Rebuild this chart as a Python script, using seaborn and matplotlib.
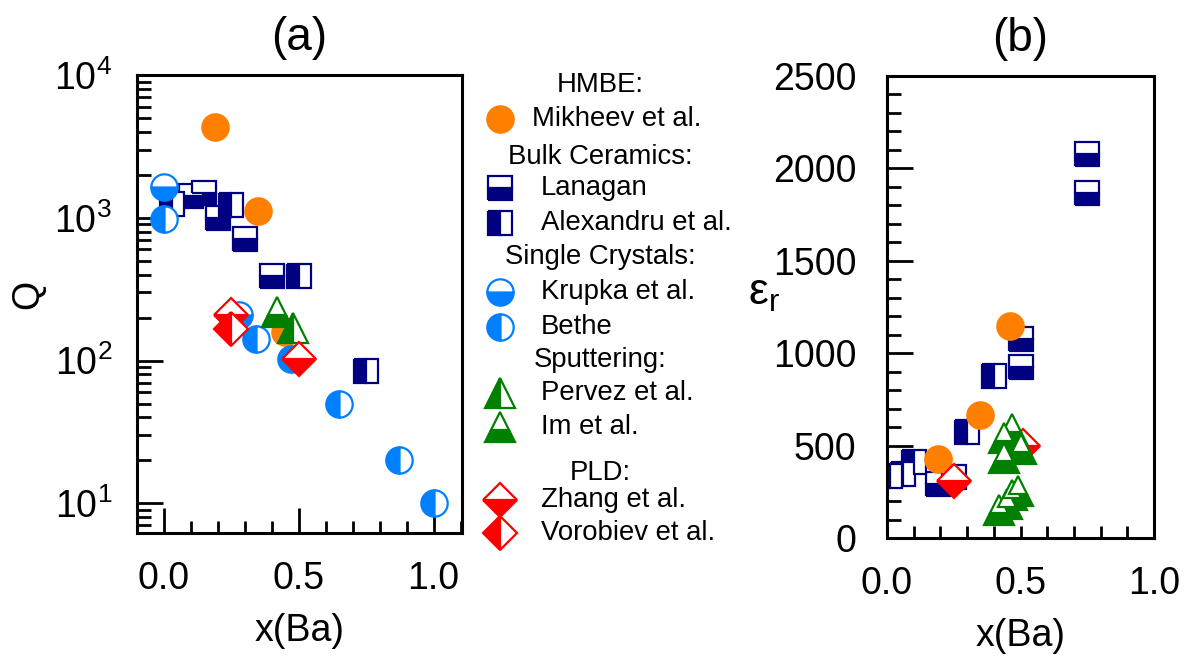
import matplotlib
matplotlib.use("Agg")
import matplotlib.pyplot as plt
from matplotlib.ticker import LogLocator, MultipleLocator, FixedLocator, NullFormatter
import seaborn as sns

# ---- data: x(Ba) composition, quality factor Q and permittivity eps_r ----
mikheev_x_q = [0.19, 0.35, 0.45]
mikheev_q = [4300, 1120, 158]
lanagan_x_q = [0.10, 0.15, 0.20, 0.30, 0.40]
lanagan_q = [1410, 1500, 995, 716, 393]
alexandru_x_q = [0.03, 0.25, 0.50, 0.75]
alexandru_q = [1250, 1230, 393, 84]
krupka_x_q = [0.0, 0.28]
krupka_q = [1650, 207]
bethe_x_q = [0.0, 0.34, 0.47, 0.65, 0.87, 1.0]
bethe_q = [980, 142, 103, 50, 20, 10]
pervez_x_q = [0.48]
pervez_q = [169]
im_x_q = [0.42]
im_q = [218]
zhang_x_q = [0.25, 0.50]
zhang_q = [210, 103]
vorobiev_x_q = [0.25]
vorobiev_q = [167]

mikheev_x_e = [0.19, 0.35, 0.46]
mikheev_e = [430, 667, 1149]
lanagan_x_e = [0.19, 0.25, 0.50, 0.50, 0.75, 0.75]
lanagan_e = [290, 330, 1075, 928, 2079, 1868]
alexandru_x_e = [0.01, 0.06, 0.10, 0.30, 0.40]
alexandru_e = [338, 344, 410, 574, 878]
im_x_e = [0.47, 0.44, 0.44, 0.50, 0.42, 0.45, 0.47, 0.49]
im_e = [590, 540, 434, 480, 150, 185, 235, 255]
zhang_x_e = [0.25, 0.51]
zhang_e = [311, 496]

x_ticks = [0.0, 0.5, 1.0]
x_tick_labels = ["0.0", "0.5", "1.0"]
eps_ticks = [0, 500, 1000, 1500, 2000, 2500]

ORANGE = "#ff8000"
NAVY = "#000080"
BLUE = "#0080ff"
GREEN = "#008000"
RED = "#ff0000"

# marker style for every data source
styles = {
    "Mikheev": dict(marker="o", fillstyle="full", color=ORANGE, size=19, edge=ORANGE),
    "Lanagan": dict(marker="s", fillstyle="bottom", color=NAVY, size=17.5, edge=NAVY),
    "Alexandru": dict(marker="s", fillstyle="left", color=NAVY, size=17.5, edge=NAVY),
    "Krupka": dict(marker="o", fillstyle="bottom", color=BLUE, size=19, edge=BLUE),
    "Bethe": dict(marker="o", fillstyle="left", color=BLUE, size=19, edge=BLUE),
    "Pervez": dict(marker="^", fillstyle="left", color=GREEN, size=22, edge=GREEN),
    "Im": dict(marker="^", fillstyle="bottom", color=GREEN, size=22, edge=GREEN),
    "Zhang": dict(marker="D", fillstyle="bottom", color=RED, size=17, edge=RED),
    "Vorobiev": dict(marker="D", fillstyle="left", color=RED, size=17, edge=RED),
}

sns.set_theme(style="white")
plt.rcParams["font.family"] = ["Liberation Sans", "DejaVu Sans"]
plt.rcParams["mathtext.fontset"] = "custom"
plt.rcParams["mathtext.rm"] = "Liberation Sans"
plt.rcParams["mathtext.it"] = "Liberation Sans:italic"
plt.rcParams["mathtext.bf"] = "Liberation Sans:bold"
for key in ("text.color", "axes.labelcolor", "xtick.color", "ytick.color"):
    plt.rcParams[key] = "black"

FS = 27

fig = plt.figure(figsize=(11.92, 6.57), dpi=100)
W, H = 1192, 657
ax_a = fig.add_axes([137 / W, 1 - 533 / H, (462 - 137) / W, (533 - 75) / H])
ax_b = fig.add_axes([887 / W, 1 - 538 / H, (1154 - 887) / W, (538 - 76) / H])


def draw(ax, name, xs, ys):
    st = styles[name]
    sns.lineplot(
        x=xs, y=ys, ax=ax, estimator=None, sort=False, legend=False,
        linestyle="", marker=st["marker"], markersize=st["size"],
        fillstyle=st["fillstyle"], markerfacecolor=st["color"],
        markerfacecoloralt="white", markeredgecolor=st["edge"],
        markeredgewidth=1.6, color=st["color"], clip_on=True,
    )


# panel (a): Q versus composition
draw(ax_a, "Lanagan", lanagan_x_q, lanagan_q)
draw(ax_a, "Alexandru", alexandru_x_q, alexandru_q)
draw(ax_a, "Mikheev", mikheev_x_q, mikheev_q)
draw(ax_a, "Krupka", krupka_x_q, krupka_q)
draw(ax_a, "Bethe", bethe_x_q, bethe_q)
draw(ax_a, "Im", im_x_q, im_q)
draw(ax_a, "Pervez", pervez_x_q, pervez_q)
draw(ax_a, "Zhang", zhang_x_q, zhang_q)
draw(ax_a, "Vorobiev", vorobiev_x_q, vorobiev_q)

# panel (b): permittivity versus composition
draw(ax_b, "Lanagan", lanagan_x_e, lanagan_e)
draw(ax_b, "Alexandru", alexandru_x_e, alexandru_e)
draw(ax_b, "Mikheev", mikheev_x_e, mikheev_e)
draw(ax_b, "Zhang", zhang_x_e, zhang_e)
draw(ax_b, "Im", im_x_e, im_e)

# ---- axes styling ----
ax_a.set_yscale("log")
ax_a.set_xlim(-0.1, 1.105)
ax_a.set_ylim(6.2, 10000)
ax_a.yaxis.set_major_locator(LogLocator(base=10, numticks=10))
ax_a.yaxis.set_minor_locator(LogLocator(base=10, subs=range(2, 10), numticks=50))
ax_a.yaxis.set_minor_formatter(NullFormatter())
ax_a.xaxis.set_major_locator(FixedLocator(x_ticks))
ax_a.set_xticklabels(x_tick_labels)
ax_a.xaxis.set_minor_locator(MultipleLocator(0.1))

ax_b.set_xlim(0, 1.0)
ax_b.set_ylim(0, 2500)
ax_b.xaxis.set_major_locator(FixedLocator(x_ticks))
ax_b.set_xticklabels(x_tick_labels)
ax_b.xaxis.set_minor_locator(MultipleLocator(0.1))
ax_b.yaxis.set_major_locator(FixedLocator(eps_ticks))
ax_b.yaxis.set_minor_locator(MultipleLocator(100))

for ax in (ax_a, ax_b):
    for sp in ax.spines.values():
        sp.set_linewidth(2.2)
        sp.set_color("black")
        sp.set_visible(True)
    ax.tick_params(which="both", direction="in", color="black", width=2.0,
                   labelsize=FS, labelcolor="black",
                   top=False, right=False, left=True, bottom=True)
    ax.tick_params(axis="y", which="major", length=19, pad=18)
    ax.tick_params(axis="y", which="minor", length=10)
    ax.set_xlabel("x(Ba)", fontsize=FS, labelpad=12)
    ax.grid(False)

ax_a.tick_params(axis="x", which="major", length=18, pad=20)
ax_a.tick_params(axis="x", which="minor", length=9)
ax_b.tick_params(axis="x", which="both", length=9, pad=20)
ax_b.tick_params(axis="y", which="major", pad=22)

ax_a.set_ylabel("Q", fontsize=FS, va="center")
ax_a.yaxis.set_label_coords(-0.335, 0.52)
ax_b.set_ylabel("ε$_{\\mathregular{r}}$", fontsize=FS + 5, rotation=0,
                ha="center", va="center")
ax_b.yaxis.set_label_coords(-0.46, 0.53)

ax_a.set_title("(a)", fontsize=33, pad=18)
ax_b.set_title("(b)", fontsize=33, pad=18)

# ---- grouped legend between the panels ----
leg = fig.add_axes([0, 0, 1, 1])
leg.set_xlim(0, W)
leg.set_ylim(H, 0)
leg.axis("off")
leg.patch.set_alpha(0)

LEG_FS = 19.8
headers = [("HMBE:", 85), ("Bulk Ceramics:", 157), ("Single Crystals:", 257),
           ("Sputtering:", 360), ("PLD:", 473)]
entries = [("Mikheev", "Mikheev et al.", 119, 532),
           ("Lanagan", "Lanagan", 188, 541),
           ("Alexandru", "Alexandru et al.", 223, 541),
           ("Krupka", "Krupka et al.", 292, 541),
           ("Bethe", "Bethe", 327, 541),
           ("Pervez", "Pervez et al.", 393, 541),
           ("Im", "Im et al.", 427, 541),
           ("Zhang", "Zhang et al.", 500, 541),
           ("Vorobiev", "Vorobiev et al.", 533, 541)]
for text, y in headers:
    leg.text(600, y, text, fontsize=LEG_FS, ha="center", va="center")
for key, label, y, tx in entries:
    st = styles[key]
    leg.plot([499.5], [y], linestyle="", marker=st["marker"], markersize=st["size"],
             fillstyle=st["fillstyle"], markerfacecolor=st["color"],
             markerfacecoloralt="white", markeredgecolor=st["edge"],
             markeredgewidth=1.6)
    leg.text(tx, y, label, fontsize=LEG_FS, ha="left", va="center")

fig.savefig("out.png", dpi=100, facecolor="white")
